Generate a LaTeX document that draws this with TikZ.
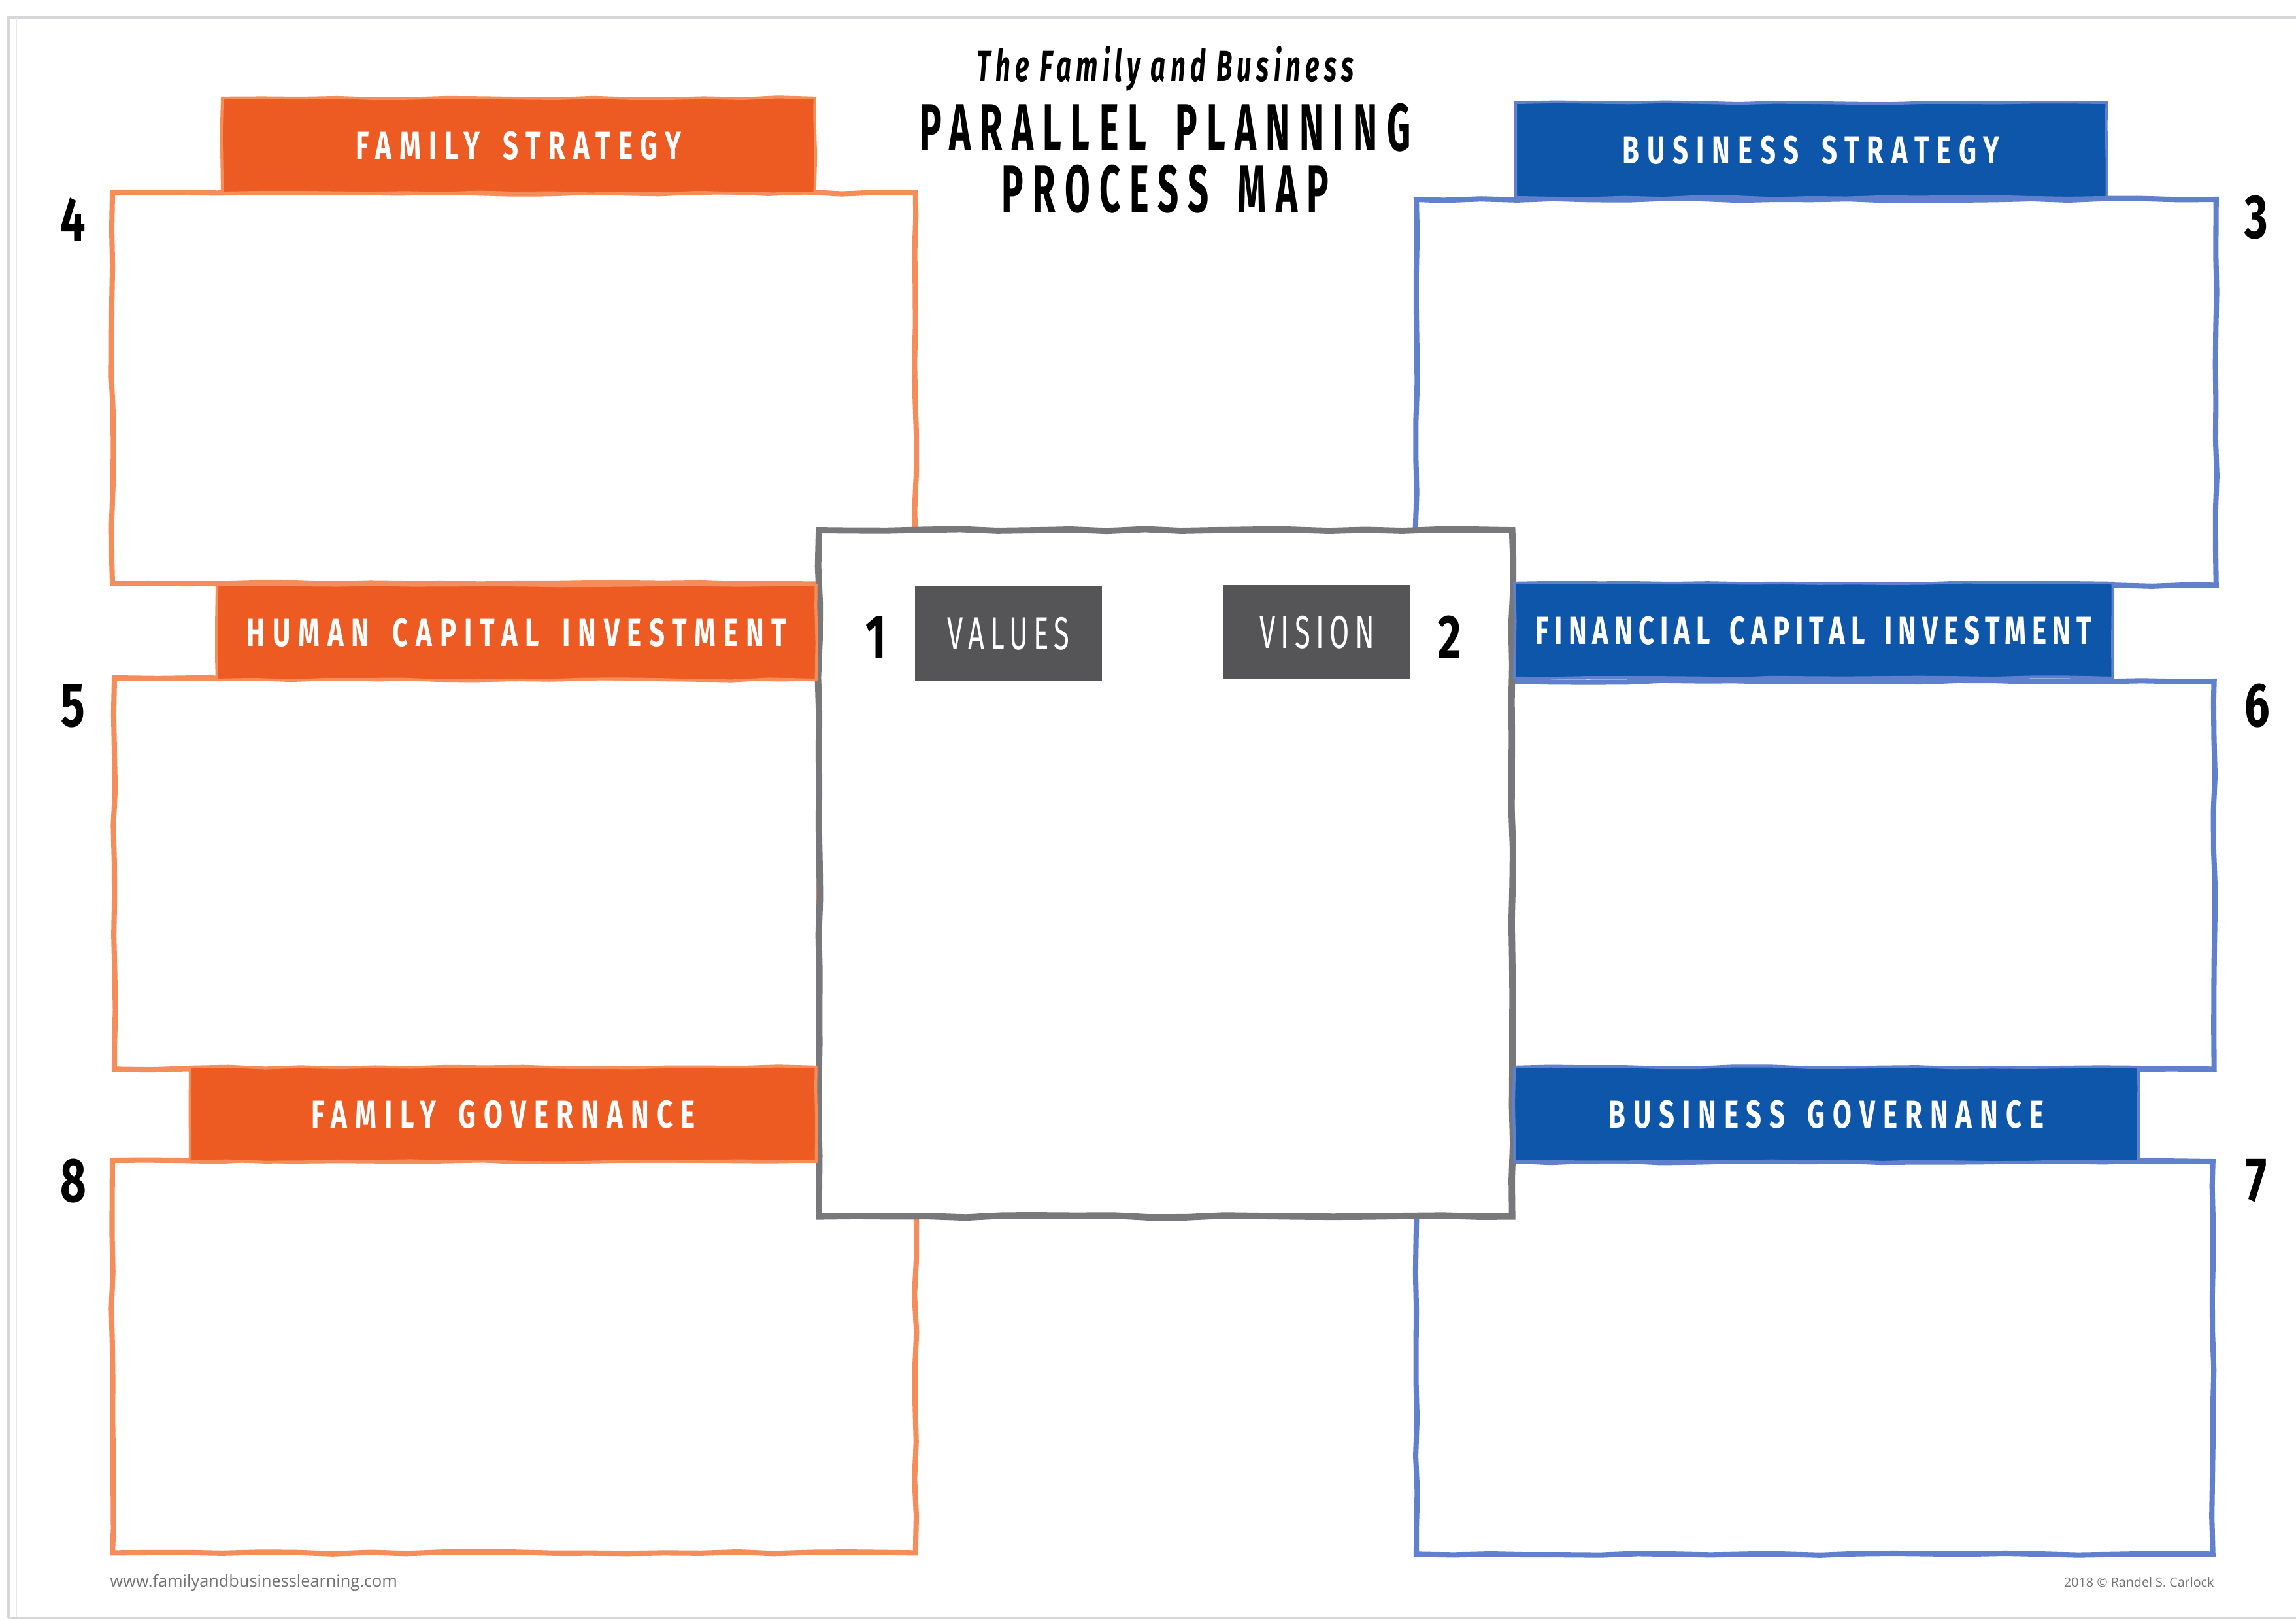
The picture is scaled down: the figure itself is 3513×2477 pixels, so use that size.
\documentclass[tikz,border=0pt]{standalone}
\usepackage{fontspec}
\usetikzlibrary{positioning,calc}
\usetikzlibrary{decorations.pathmorphing}

\newfontfamily\headfont[FakeStretch=0.7,LetterSpace=20,WordSpace=1.6]{Fira Sans}
\newfontfamily\headfontnarrow[FakeStretch=0.7,LetterSpace=15,WordSpace=1.6]{Fira Sans}
\newfontfamily\tagfont[FakeStretch=0.62,LetterSpace=12]{Fira Sans}
\newfontfamily\titlefont[FakeStretch=0.55,LetterSpace=14,WordSpace=1.6]{Fira Sans}
\newfontfamily\subtitlefont[FakeStretch=0.6,LetterSpace=11]{Fira Sans}
\newfontfamily\numfont[FakeStretch=0.72]{Fira Sans}
\newfontfamily\footfont{Open Sans}

\definecolor{famfill}{RGB}{237,90,34}
\definecolor{famline}{RGB}{244,141,90}
\definecolor{busfill}{RGB}{14,86,170}
\definecolor{busline}{RGB}{96,128,205}
\definecolor{midline}{RGB}{120,120,122}
\definecolor{tagfill}{RGB}{85,85,87}
\definecolor{pageline}{RGB}{215,215,218}

\tikzset{
  rough/.style={decorate, decoration={random steps, segment length=16pt, amplitude=0.45pt}},
  box/.style={draw, rough, line width=2.3pt, fill=white, inner sep=0pt, outer sep=0pt, anchor=north west},
  fambox/.style={box, draw=famline},
  busbox/.style={box, draw=busline},
  head/.style={rough, line width=1.2pt, inner sep=0pt, outer sep=0pt, minimum height=1.45cm,
    text=white, font=\headfont\bfseries\fontsize{17pt}{20pt}\selectfont},
  famhead/.style={head, fill=famfill, draw=famline},
  bushead/.style={head, fill=busfill, draw=busline},
  tag/.style={fill=tagfill, inner sep=0pt, minimum width=2.86cm, minimum height=1.44cm,
    text=white, font=\tagfont\fontsize{20pt}{24pt}\selectfont},
  num/.style={inner sep=0pt, font=\numfont\bfseries\fontsize{27pt}{30pt}\selectfont},
}

\pgfmathsetseed{7}

\begin{document}
\begin{tikzpicture}[x=0.01cm, y=-0.01cm]
  \useasboundingbox (0,0) rectangle (3513,2477);

  % page frame
  \draw[pageline, line width=1.2pt] (13,2475) -- (13,27) -- (3513,27);
  \draw[pageline!60, line width=0.8pt] (25,2475) -- (25,27);
  \draw[pageline, line width=1pt] (13,2475) -- (3513,2475);

  % family side
  \node[fambox, minimum width=12.28cm, minimum height=5.97cm] (b4) at (172,295) {};
  \node[fambox, minimum width=10.78cm, minimum height=5.98cm] (b5) at (175,1037) {};
  \node[fambox, minimum width=12.28cm, minimum height=6.00cm] (b8) at (172,1775) {};

  % business side
  \node[busbox, minimum width=12.23cm, minimum height=5.90cm] (b3) at (2167,305) {};
  \node[busbox, minimum width=10.74cm, minimum height=5.93cm] (b6) at (2313,1042) {};
  \node[busbox, minimum width=12.18cm, minimum height=6.00cm] (b7) at (2167,1777) {};

  % values and vision
  \node[box, draw=midline, line width=2.8pt, minimum width=10.60cm, minimum height=10.49cm] (mid) at (1253,811) {};

  \node[famhead, minimum width=9.06cm, above right=0cm and 1.68cm of b4.north west] (h4) {FAMILY STRATEGY};
  \node[famhead, minimum width=9.16cm, above right=-0.03cm and 1.57cm of b5.north west] (h5) {HUMAN CAPITAL INVESTMENT};
  \node[famhead, minimum width=9.57cm, above right=-0.02cm and 1.19cm of b8.north west] (h8) {FAMILY GOVERNANCE};

  \node[bushead, minimum width=9.04cm, above right=0.03cm and 1.52cm of b3.north west] (h3) {BUSINESS STRATEGY};
  \node[bushead, minimum width=9.15cm, above right=0.05cm and 0.04cm of b6.north west,
    font=\headfontnarrow\bfseries\fontsize{17pt}{20pt}\selectfont] (h6) {FINANCIAL CAPITAL INVESTMENT};
  \node[bushead, minimum width=9.54cm, above right=0cm and 1.50cm of b7.north west] (h7) {BUSINESS GOVERNANCE};

  \node[tag] (values) at (1543,969) {VALUES};
  \node[tag] (vision) at (2015,967) {VISION};

  % step numbers
  \node[num] (n1) at (1340,975) {1};
  \node[num] (n2) at (2218,975) {2};
  \node[num] (n3) at ($(b3.north east)+(62,28)$) {3};
  \node[num] (n4) at ($(b4.north west)+(-60,41)$) {4};
  \node[num] (n5) at ($(b5.north west)+(-63,43)$) {5};
  \node[num] (n6) at ($(b6.north east)+(66,38)$) {6};
  \node[num] (n7) at ($(b7.north east)+(67,29)$) {7};
  \node[num] (n8) at ($(b8.north west)+(-60,31)$) {8};

  % title
  \node[font=\subtitlefont\bfseries\itshape\fontsize{19pt}{22pt}\selectfont] (t1) at (1783,105) {The Family and Business};
  \node[font=\titlefont\bfseries\fontsize{29pt}{34pt}\selectfont] (t2) at (1783,195) {PARALLEL PLANNING};
  \node[font=\titlefont\bfseries\fontsize{29pt}{34pt}\selectfont] (t3) at (1783,289) {PROCESS MAP};

  % footer
  \node[anchor=base west, inner sep=0pt, text=black!55, font=\footfont\fontsize{7.2pt}{9pt}\selectfont] (web) at (168,2427) {www.familyandbusinesslearning.com};
  \node[anchor=base east, inner sep=0pt, text=black!55, font=\footfont\fontsize{5.6pt}{7pt}\selectfont] (copy) at (3388,2427) {2018 © Randel S. Carlock};
\end{tikzpicture}
\end{document}
